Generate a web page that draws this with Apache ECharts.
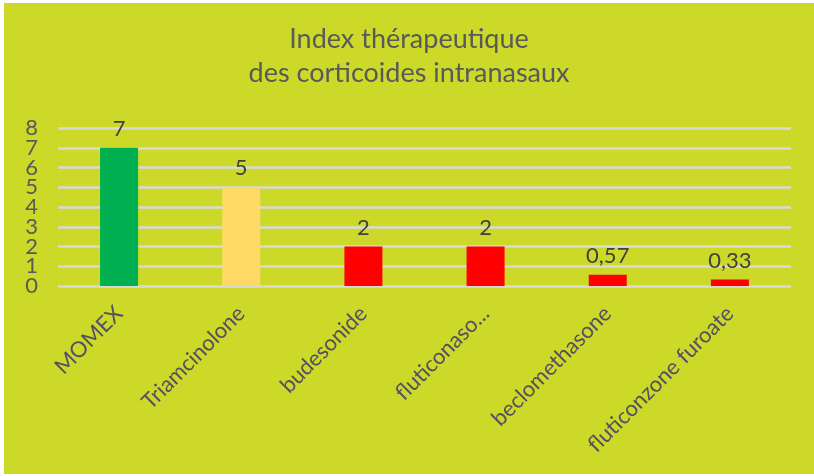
<!DOCTYPE html>
<html><head><meta charset="utf-8">
<script src="https://cdn.jsdelivr.net/npm/echarts@6/dist/echarts.min.js"></script>
<style>
html,body{margin:0;padding:0;background:#fff;width:814px;height:476px;overflow:hidden}
#c{position:absolute;left:4px;top:3px;width:810px;height:471px}
</style></head><body>
<div id="c"></div>
<script>
const categories = ['MOMEX','Triamcinolone','budesonide','fluticonaso...','beclomethasone','fluticonzone furoate'];
const values = [7, 5, 2, 2, 0.57, 0.33];
const barColors = ['#00B050','#FFD966','#FF0000','#FF0000','#FF0000','#FF0000'];
const yTicks = [0,1,2,3,4,5,6,7,8];
const titleLines = ['Index thérapeutique','des corticoides intranasaux'];

const labelStyle = { margin: 20, color: '#595959', fontFamily: 'Lato', fontSize: 22 };
const chart = echarts.init(document.getElementById('c'));
chart.setOption({
  backgroundColor: '#CCD929',
  animation: false,
  title: {
    text: titleLines.join('\n'),
    left: 'center', top: 14,
    textStyle: { fontFamily: 'Lato', fontWeight: 'normal', fontSize: 27, color: '#595959', lineHeight: 34 }
  },
  grid: { left: 54, right: 23, top: 125, bottom: 188 },
  xAxis: {
    type: 'category', data: categories,
    axisLine: { show: false }, axisTick: { show: false },
    axisLabel: { rotate: 45, interval: 0, margin: 24, fontFamily: 'Lato', fontSize: 22, color: '#555060' }
  },
  yAxis: [{
    type: 'value', min: 0, max: 8, interval: 2, position: 'left',
    axisLine: { show: false }, axisTick: { show: false },
    axisLabel: Object.assign({ formatter: v => yTicks.includes(v) ? String(v) : '' }, labelStyle),
    splitLine: { show: false }
  }, {
    type: 'value', min: 0, max: 8, interval: 1, position: 'left', offset: 0,
    axisLine: { show: false }, axisTick: { show: false },
    axisLabel: Object.assign({ showMinLabel: false, showMaxLabel: false,
      formatter: v => (yTicks.includes(v) && v % 2 === 1) ? String(v) : '' }, labelStyle),
    splitLine: { show: true, lineStyle: { color: '#D9D9D9', width: 2.5 } }
  }],
  series: [{
    type: 'bar', barWidth: 38, yAxisIndex: 0,
    data: values.map((v, i) => ({ value: v, itemStyle: { color: barColors[i] } })),
    label: { show: true, position: 'top', distance: 8, fontFamily: 'Lato', fontSize: 22, color: '#404040',
      formatter: p => String(p.value).replace('.', ',') }
  }]
});
</script></body></html>
